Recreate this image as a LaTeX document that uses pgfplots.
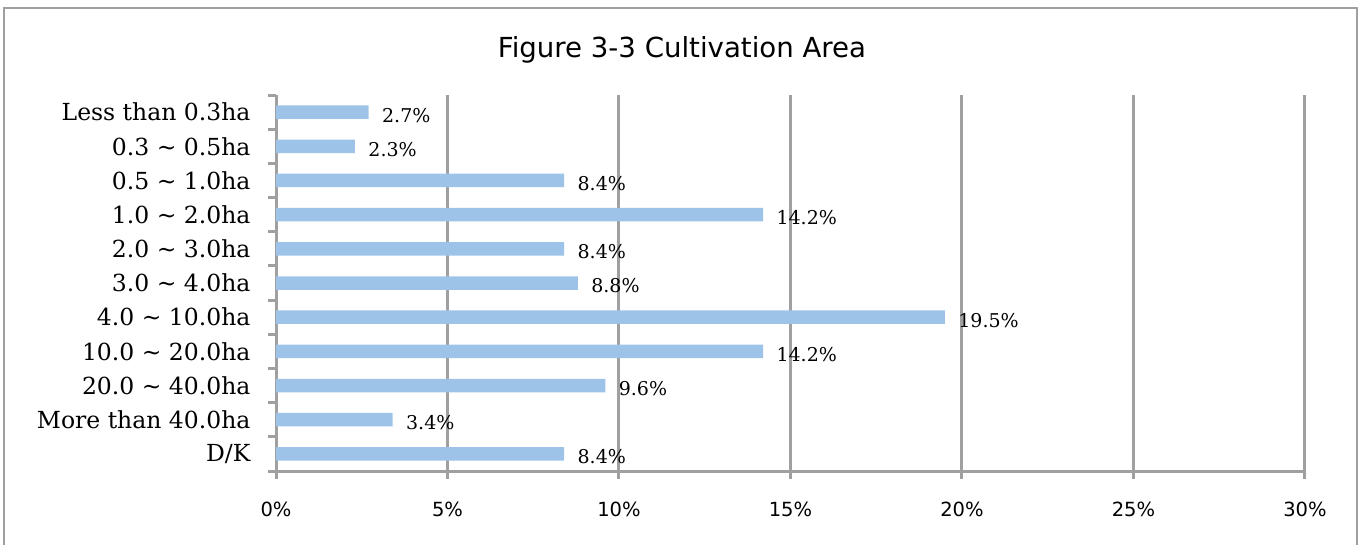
\documentclass[border=0pt]{standalone}
\usepackage{fontspec}
\setmainfont{DejaVu Serif}
\newfontfamily\sansf{DejaVu Sans}
\usepackage{pgfplots}
\pgfplotsset{compat=1.18}
\definecolor{barblue}{RGB}{158,195,232}
\definecolor{gridgray}{RGB}{160,160,160}
\begin{document}
\begin{tikzpicture}[x=1pt,y=1pt]
\useasboundingbox (0,0) rectangle (1363,544);
\draw[gridgray, line width=2pt] (4,-5) -- (4,536) -- (1357,536) -- (1357,-5);
\node[font=\sansf\fontsize{27.6}{32}\selectfont] at (682,494) {Figure 3-3 Cultivation Area};
\begin{axis}[
  at={(276pt,73pt)}, anchor=south west, scale only axis,
  width=1029pt, height=376pt,
  xbar, bar width=13.5pt,
  xmin=0, xmax=30, ymin=-0.5, ymax=10.5, y dir=reverse,
  axis x line=bottom, axis y line=left,
  axis line style={gridgray, line width=3pt, -},
  xtick={0,5,...,30},
  minor xtick={0,5,...,30},
  xmajorgrids, grid style={gridgray, line width=3pt},
  ytick={0,...,10},
  yticklabels={Less than 0.3ha, 0.3 \textasciitilde{} 0.5ha, 0.5 \textasciitilde{} 1.0ha, 1.0 \textasciitilde{} 2.0ha, 2.0 \textasciitilde{} 3.0ha, 3.0 \textasciitilde{} 4.0ha, 4.0 \textasciitilde{} 10.0ha, 10.0 \textasciitilde{} 20.0ha, 20.0 \textasciitilde{} 40.0ha, More than 40.0ha, D/K},
  minor ytick={-0.5,0.5,...,10.5},
  tick align=outside,
  major tick length=0pt, minor tick length=8pt,
  tick style={gridgray, line width=3pt},
  every minor tick/.append style={gridgray, line width=3pt},
  minor tick style={gridgray, line width=3pt},
  yticklabel style={font=\fontsize{23.5}{26}\selectfont, xshift=-22pt},
  xticklabel style={font=\sansf\fontsize{19.5}{22}\selectfont, yshift=-27pt},
  xticklabel={\pgfmathprintnumber{\tick}\%},
  /pgf/number format/assume math mode=true,
  nodes near coords={\pgfmathprintnumber[fixed,fixed zerofill,precision=1]{\pgfplotspointmeta}\%},
  nodes near coords style={anchor=west, xshift=10pt, yshift=-3pt, font=\fontsize{19}{22}\selectfont, text=black},
]
\addplot[fill=barblue, draw=none] coordinates {
(2.7,0) (2.3,1) (8.4,2) (14.2,3) (8.4,4) (8.8,5) (19.5,6) (14.2,7) (9.6,8) (3.4,9) (8.4,10)
};
\end{axis}
\end{tikzpicture}
\end{document}
